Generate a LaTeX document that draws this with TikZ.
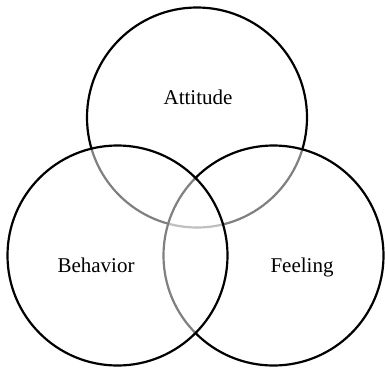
\documentclass[tikz,border=0pt]{standalone}
\usepackage{fontspec}
\setmainfont{Liberation Serif}
\usepackage{tikz}

\begin{document}
\begin{tikzpicture}[
  x=1pt, y=1pt,
  font=\fontsize{21}{25}\selectfont,
  setcircle/.style={circle, draw=black, line width=2.2pt, fill=white,
    fill opacity=0.5, inner sep=0pt, minimum size=220pt},
  setlabel/.style={anchor=base, inner sep=0pt}
]
\useasboundingbox (0,0) rectangle (385,368);

% Circles (drawn in this order so the arcs under them turn grey)
\node[setcircle] (attitude) at (197,250.5) {};
\node[setcircle] (feeling) at (273.5,112.5) {};
\node[setcircle] (behavior) at (117.5,112.5) {};

% Labels
\node[setlabel] (attitudetext) at (198,264) {Attitude};
\node[setlabel] (behaviortext) at (96,96) {Behavior};
\node[setlabel] (feelingtext) at (302,96) {Feeling};
\end{tikzpicture}
\end{document}
